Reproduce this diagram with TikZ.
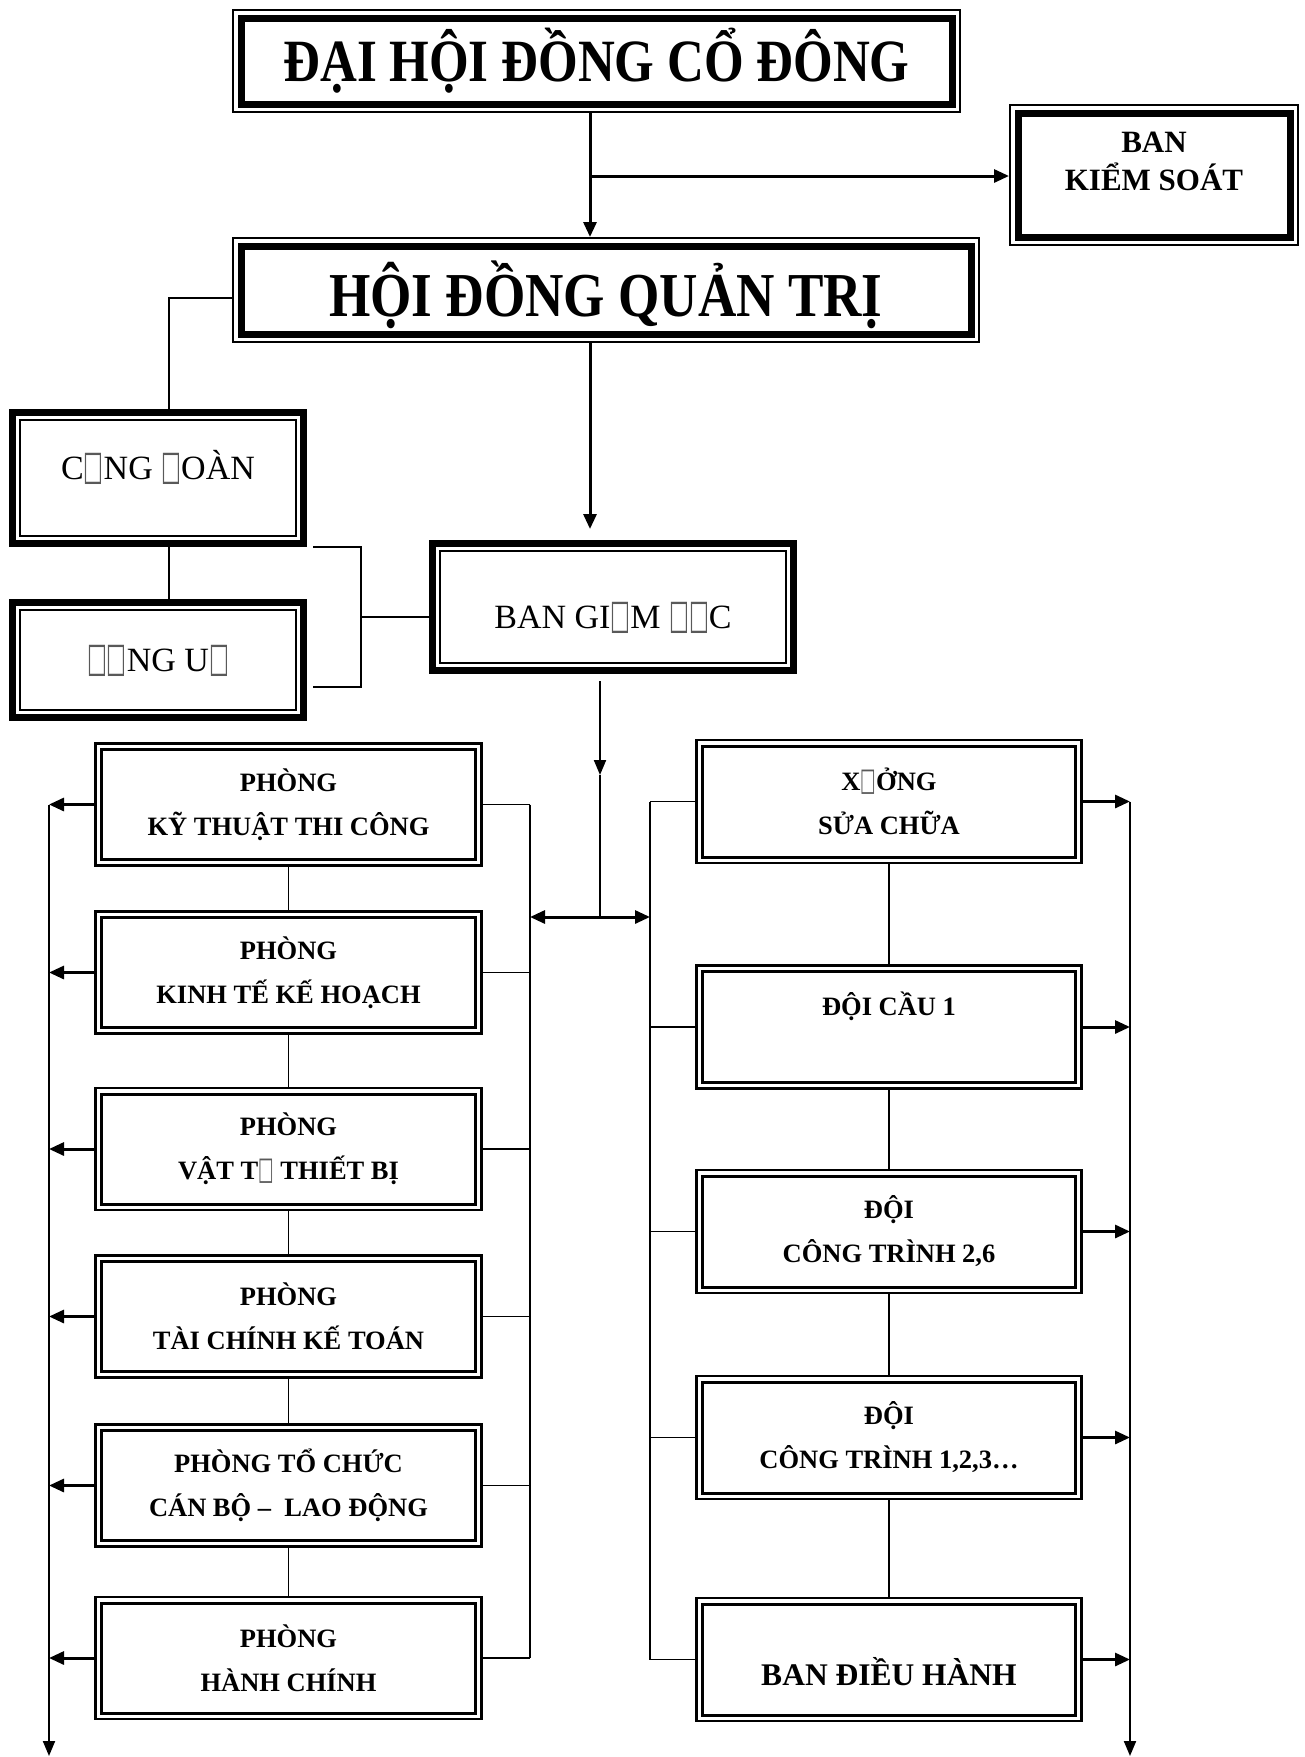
\documentclass[tikz,border=0pt]{standalone}
\usepackage{fontspec}
\usepackage{graphicx}
\usepackage{xcolor}
\usepackage{tikz}
\usetikzlibrary{arrows.meta}
\setmainfont{Liberation Serif}
\newfontfamily\titlefont[FakeStretch=0.85]{Liberation Serif}
\newfontfamily\symfont{DejaVu Sans}
\newcommand{\nochar}{{\symfont\color{black!65}\scalebox{0.62}[1.2]{□}}}

\begin{document}
\begin{tikzpicture}[x=1pt, y=-1pt,
    boxframe/.style n args={3}{draw, line width=#1, inner sep=0pt,
      path picture={\draw[line width=#2]
        ([shift={(#3,-#3)}]path picture bounding box.north west) rectangle
        ([shift={(-#3,#3)}]path picture bounding box.south east);}},
    tbox/.style={boxframe={2pt}{7pt}{8pt}},
    kbox/.style={boxframe={7pt}{2pt}{7.5pt}},
    dbox/.style={boxframe={2.5pt}{3pt}{6pt}},
    ptext/.style={font=\bfseries\fontsize{26.5pt}{44pt}\selectfont, align=center},
    gtext/.style={font=\fontsize{34pt}{42pt}\selectfont},
    conn/.style={line width=1.6pt},
    bus/.style={line width=2pt},
    arr/.style={-{Triangle[length=15pt,width=12pt]}, line width=2pt},
    tarr/.style={-{Triangle[length=15pt,width=13pt]}, line width=3pt},
    darr/.style={{Triangle[length=15pt,width=13pt]}-{Triangle[length=15pt,width=13pt]}, line width=3pt}]
    \useasboundingbox (0,0) rectangle (1305,1757);

    % Top level
    \node[tbox, minimum width=727pt, minimum height=102pt, text height=40pt, text depth=0pt,
      font=\titlefont\bfseries\fontsize{60pt}{60pt}\selectfont] (dhcd) at (596.5,61) {ĐẠI HỘI ĐỒNG CỔ ĐÔNG};
    \node[tbox, minimum width=288pt, minimum height=140pt, align=center, text depth=28pt,
      font=\bfseries\fontsize{31pt}{38pt}\selectfont] (bks) at (1154,175) {BAN\\KIỂM SOÁT};
    \node[tbox, minimum width=746pt, minimum height=104pt, text height=53pt, text depth=0pt,
      font=\titlefont\bfseries\fontsize{62.5pt}{62.5pt}\selectfont] (hdqt) at (606,290) {HỘI ĐỒNG QUẢN TRỊ};

    % Cong doan, Dang uy, Ban giam doc
    \node[kbox, gtext, minimum width=291pt, minimum height=131pt, text height=22.5pt, text depth=20pt] (cd) at (158,478) {C\nochar NG \nochar OÀN};
    \node[kbox, gtext, minimum width=291pt, minimum height=115pt, text height=22.5pt, text depth=0pt] (du) at (158,660) {\nochar\nochar NG U\nochar};
    \node[kbox, gtext, minimum width=361pt, minimum height=127pt, text height=42.5pt, text depth=0pt] (bgd) at (613,607) {BAN GI\nochar M \nochar\nochar C};

    % Phong ban (left)
    \node[dbox, ptext, minimum width=386pt, minimum height=122pt] (p1) at (288.5,804.5) {PHÒNG\\KỸ THUẬT THI CÔNG};
    \node[dbox, ptext, minimum width=386pt, minimum height=122pt] (p2) at (288.5,972.5) {PHÒNG\\KINH TẾ KẾ HOẠCH};
    \node[dbox, ptext, minimum width=386pt, minimum height=122pt] (p3) at (288.5,1149) {PHÒNG\\VẬT T\nochar{} THIẾT BỊ};
    \node[dbox, ptext, minimum width=386pt, minimum height=122pt] (p4) at (288.5,1316.5) {PHÒNG\\TÀI CHÍNH KẾ TOÁN};
    \node[dbox, ptext, minimum width=386pt, minimum height=122pt] (p5) at (288.5,1485.5) {PHÒNG TỔ CHỨC\\CÁN BỘ –~ LAO ĐỘNG};
    \node[dbox, ptext, minimum width=386pt, minimum height=122pt] (p6) at (288.5,1658) {PHÒNG\\HÀNH CHÍNH};

    % Doi, xuong (right)
    \node[dbox, ptext, minimum width=385pt, minimum height=123pt] (r1) at (889,801.5) {X\nochar ỞNG\\SỬA CHỮA};
    \node[dbox, ptext, minimum width=385pt, minimum height=123pt, text height=17.5pt, text depth=40pt] (r2) at (889,1027) {ĐỘI CẦU 1};
    \node[dbox, ptext, minimum width=385pt, minimum height=123pt] (r3) at (889,1231.5) {ĐỘI\\CÔNG TRÌNH 2,6};
    \node[dbox, ptext, minimum width=385pt, minimum height=123pt] (r4) at (889,1437.5) {ĐỘI\\CÔNG TRÌNH 1,2,3…};
    \node[dbox, ptext, minimum width=385pt, minimum height=123pt, text height=51pt, text depth=0pt,
      font=\bfseries\fontsize{31.5pt}{38pt}\selectfont] (r5) at (889,1659.5) {BAN ĐIỀU HÀNH};

    % Bus positions
    \coordinate (jk) at (590,176);
    \coordinate (lk) at (169,298);
    \coordinate (bk) at (361,617);
    \coordinate (mk) at (600,775);
    \coordinate (hub) at (600,917);
    \coordinate (lb) at (530,0);
    \coordinate (rb) at (650,0);
    \coordinate (lo) at (49,1756);
    \coordinate (ro) at (1130,1756);

    % Top arrows
    \draw[tarr] (dhcd.south -| jk) -- (hdqt.north -| jk);
    \draw[tarr] (jk) -- (bks.west |- jk);
    \draw[tarr, shorten >=11pt] (hdqt.south -| jk) -- (bgd.north -| jk);

    % Cong doan / Dang uy links
    \draw[conn] ([yshift=-8pt]hdqt.west) -- (lk) -- (lk |- cd.north);
    \draw[conn] (lk |- cd.south) -- (lk |- du.north);
    \draw[conn] ([xshift=6pt]cd.south east) -| (bk) |- ([xshift=6pt,yshift=34pt]du.south east);
    \draw[conn] (bk) -- ([yshift=-10pt]bgd.west);

    % Ban giam doc down to the two groups
    \draw[arr] ([xshift=-13pt,yshift=-7pt]bgd.south) -- (mk);
    \draw[bus] (mk) -- (hub);
    \draw[darr] (lb |- hub) -- (rb |- hub);

    % Left group
    \draw[bus] (p1.east -| lb) -- (p6.east -| lb);
    \draw[conn] (p1.east) -- (p1.east -| lb);
    \draw[conn] (p2.east) -- (p2.east -| lb);
    \draw[conn] (p3.east) -- (p3.east -| lb);
    \draw[conn] (p4.east) -- (p4.east -| lb);
    \draw[conn] (p5.east) -- (p5.east -| lb);
    \draw[conn] (p6.east) -- (p6.east -| lb);
    \draw[conn] (p1.south) -- (p2.north);
    \draw[conn] (p2.south) -- (p3.north);
    \draw[conn] (p3.south) -- (p4.north);
    \draw[conn] (p4.south) -- (p5.north);
    \draw[conn] (p5.south) -- (p6.north);
    \draw[arr] (p1.west -| lo) -- (lo);
    \draw[tarr] (p1.west) -- (p1.west -| lo);
    \draw[tarr] (p2.west) -- (p2.west -| lo);
    \draw[tarr] (p3.west) -- (p3.west -| lo);
    \draw[tarr] (p4.west) -- (p4.west -| lo);
    \draw[tarr] (p5.west) -- (p5.west -| lo);
    \draw[tarr] (p6.west) -- (p6.west -| lo);

    % Right group
    \draw[bus] (r1.west -| rb) -- (r5.west -| rb);
    \draw[conn] (r1.west -| rb) -- (r1.west);
    \draw[conn] (r2.west -| rb) -- (r2.west);
    \draw[conn] (r3.west -| rb) -- (r3.west);
    \draw[conn] (r4.west -| rb) -- (r4.west);
    \draw[conn] (r5.west -| rb) -- (r5.west);
    \draw[conn] (r1.south) -- (r2.north);
    \draw[conn] (r2.south) -- (r3.north);
    \draw[conn] (r3.south) -- (r4.north);
    \draw[conn] (r4.south) -- (r5.north);
    \draw[arr] (r1.east -| ro) -- (ro);
    \draw[tarr] (r1.east) -- (r1.east -| ro);
    \draw[tarr] (r2.east) -- (r2.east -| ro);
    \draw[tarr] (r3.east) -- (r3.east -| ro);
    \draw[tarr] (r4.east) -- (r4.east -| ro);
    \draw[tarr] (r5.east) -- (r5.east -| ro);
\end{tikzpicture}
\end{document}
